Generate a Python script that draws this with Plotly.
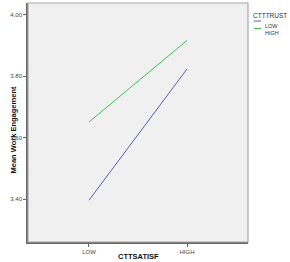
import plotly.graph_objects as go

categories = ["LOW", "HIGH"]
series_names = ["LOW", "HIGH"]
low_trust = [3.396, 3.824]
high_trust = [3.651, 3.917]
colors = ["#5c5cb8", "#3cc04c"]
y_ticks = [3.40, 3.60, 3.80, 4.00]

W, H = 290, 262
L, R, T, B = 28, 42, 3, 20
pw, ph = W - L - R, H - T - B

def px(x):
    return (x - L) / pw

def py(y):
    return (H - B - y) / ph

fig = go.Figure()
for name, vals, col in zip(series_names, [low_trust, high_trust], colors):
    fig.add_trace(go.Scatter(x=categories, y=vals, mode="lines", name=name,
                             line=dict(color=col, width=1), showlegend=False))

fig.update_layout(
    width=W, height=H,
    margin=dict(l=L, r=R, t=T, b=B),
    paper_bgcolor="white", plot_bgcolor="#f0f0f0",
    font=dict(family="Liberation Sans, Arial, sans-serif", size=6, color="#444444"),
    xaxis=dict(type="category", range=[-0.622, 1.622], showgrid=False, zeroline=False,
               showline=True, linecolor="#666666", linewidth=1.5,
               ticks="outside", ticklen=3, tickcolor="#666666", tickfont=dict(size=6)),
    yaxis=dict(range=[3.26, 4.039], tickvals=y_ticks, ticktext=[f"{v:.2f}" for v in y_ticks],
               showgrid=False, zeroline=False,
               showline=True, linecolor="#666666", linewidth=1.5,
               ticks="outside", ticklen=3, tickcolor="#666666", tickfont=dict(size=6)),
    shapes=[
        dict(type="rect", xref="paper", yref="paper", x0=0, y0=0, x1=1, y1=1,
             line=dict(color="#a8a8a8", width=1.2), layer="above"),
    ],
    annotations=[
        dict(text="<b>Mean Work Engagement</b>", xref="paper", yref="paper",
             x=px(6), y=py(130), textangle=-90, showarrow=False,
             font=dict(size=7.5, color="#111111")),
        dict(text="<b>CTTSATISF</b>", xref="paper", yref="paper",
             x=px(138), y=py(256), showarrow=False, yanchor="middle",
             font=dict(size=7.5, color="#111111")),
        dict(text="CTTTRUST", xref="paper", yref="paper", x=px(251), y=py(10),
             xanchor="left", showarrow=False, font=dict(size=6.5, color="#333333")),
    ],
)

for i, (name, col) in enumerate(zip(series_names, colors)):
    yy = 21 + i * 7.5
    fig.add_shape(type="line", xref="paper", yref="paper", x0=px(254), x1=px(261),
                  y0=py(yy), y1=py(yy), line=dict(color=col, width=1))
    fig.add_annotation(text=name, xref="paper", yref="paper", x=px(263), y=py(yy),
                       xanchor="left", showarrow=False, font=dict(size=5.5, color="#333333"))

fig.write_html("out.html")
